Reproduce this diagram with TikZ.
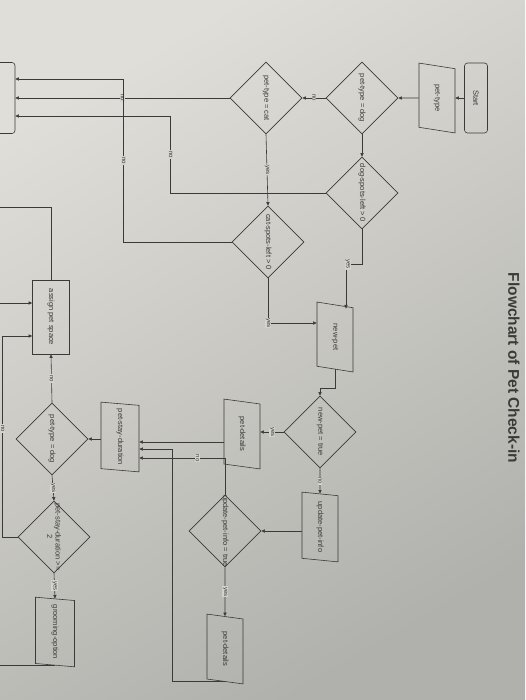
\documentclass[tikz,border=0pt]{standalone}
\usepackage{fontspec}
\setmainfont{Liberation Sans}
\usetikzlibrary{arrows.meta, positioning, shapes.geometric, calc}

\definecolor{ink}{RGB}{58,58,56}
\definecolor{paper}{RGB}{212,211,205}
\definecolor{papertop}{RGB}{224,222,216}
\definecolor{paperbot}{RGB}{176,177,172}

\begin{document}
\begin{tikzpicture}[
    x=1pt, y=-1pt, >={Triangle[length=3.6pt, width=3.2pt]},
    line width=0.6pt, color=ink,
    term/.style={draw, rounded corners=3pt, rotate=-90, inner sep=1pt,
                 font=\fontsize{7.5}{9}\selectfont},
    box/.style={draw, rotate=-90, minimum width=74, minimum height=37,
                inner sep=1pt, font=\fontsize{7.5}{9}\selectfont},
    io/.style={draw, trapezium, trapezium left angle=70,
               trapezium right angle=110, trapezium stretches=true,
               rotate=-90, minimum width=70, minimum height=36,
               inner sep=0.5pt, font=\fontsize{7.5}{9}\selectfont},
    dec/.style={draw, diamond, aspect=1, rotate=-90, minimum width=72,
                minimum height=72, inner sep=-3pt, align=center,
                font=\fontsize{7.5}{8.5}\selectfont},
    lbl/.style={fill=paper, inner sep=0.8pt, rotate=-90,
                font=\fontsize{6}{7}\selectfont}
  ]

  % page and photo background
  \useasboundingbox (0,0) rectangle (525,700);
  \clip (0,0) rectangle (525,700);
  \shade[top color=papertop, bottom color=paperbot, shading angle=30]
    (0,0) rectangle (525,700);

  % title
  \node[rotate=-90, font=\fontsize{15.5}{18}\selectfont\bfseries] (title)
    at (514,368) {Flowchart of Pet Check-in};

  % first column
  \node[term, minimum width=70, minimum height=23] (start) at (476,98) {Start};
  \node[io] (pettype) at (437,98) {pet-type};
  \node[dec] (dog) at (362,98) {pet-type = dog};
  \node[dec] (cat) at (266,98) {pet-type = cat};
  \node[term, minimum width=71, minimum height=40] (endbox) at (-5,98) {};

  % spots left
  \node[dec] (dogspots) at (362,193) {dog-spots-left > 0};
  \node[dec] (catspots) at (268,242) {cat-spots-left > 0};

  % new pet branch
  \node[io] (newpet) at (335,337) {new-pet};
  \node[dec] (newtrue) at (320,432) {new-pet = true};
  \node[io] (details1) at (242,434) {pet-details};
  \node[io] (updinfo) at (320,527) {update-pet-info};
  \node[dec] (updtrue) at (225,531) {update-pet-info = true};
  \node[io] (details2) at (225,649) {pet-details};

  % stay and grooming
  \node[io, minimum height=38] (stay) at (120,437) {pet-stay-duration};
  \node[dec] (dog2) at (52,439) {pet-type = dog};
  \node[box] (assign) at (51,317) {assign pet space};
  \node[dec] (stay2) at (54,537) {pet-stay-duration >=\\2};
  \node[io, minimum height=39] (groom) at (55,632) {grooming-option};

  % ends running off the page
  \coordinate (offa) at (-5,303);
  \coordinate (offb) at (-5,207);
  \coordinate (offc) at (-5,662);

  \draw[->] (start) -- (pettype);
  \draw[->] (pettype) -- (dog);
  \draw[->] (dog.south) -- node[lbl]{no} (cat.north);
  \draw[->] (cat.south) -- node[lbl]{no} (endbox.north);
  \draw[->] (dog.east) -- (dogspots.west);
  \draw[->] (cat.east) -- node[lbl]{yes} (catspots.west);
  \draw[->] (catspots.south) -- ++(-108,0)
    |- node[lbl, pos=0.25]{no} ([yshift=19pt]endbox.north);
  \draw[->] (dogspots.south) -- ++(-155,0)
    |- node[lbl, pos=0.25]{no} ([yshift=-18pt]endbox.north);
  \draw[->] (dogspots.east) -- ++(0,35)
    -| node[lbl, pos=0.45]{yes} ($(newpet.west)+(11,4)$);
  \draw[->] (catspots.east) |- node[lbl, pos=0.5]{yes}
    ([yshift=14pt]newpet.south);
  \draw[->] (newpet.east) -- ++(0,19) -| (newtrue.west);
  \draw[->] (newtrue.south) -- node[lbl]{yes} (newtrue.south -| details1.north);
  \draw[->] (newtrue.east) -- node[lbl]{no} (updinfo.west);
  \draw[->] (updinfo.south |- updtrue.north) -- (updtrue.north);
  \draw[->] (updtrue.east) -- node[lbl]{yes} (details2.west);
  \draw[->] (updtrue.west) |- node[lbl, pos=0.66]{no}
    ([yshift=-21pt]stay.north);
  \draw[->] ([yshift=-8pt]details1.south)
    -- ([yshift=-8pt]details1.south -| stay.north);
  \draw[->] (details2.east) -- ++(-53,0) |- ([yshift=-12pt]stay.north);
  \draw[->] (stay.south |- dog2.north) -- (dog2.north);
  \draw[->] (dog2.west) -- node[lbl]{no} (assign.east);
  \draw[->] (dog2.east) -- node[lbl]{yes} (stay2.west);
  \draw[->] (stay2.east) -- node[lbl]{yes} (groom.west);
  \draw[->] (stay2.south) -- ++(-15,0)
    |- node[lbl, pos=0.27]{no} ([yshift=-19pt]assign.south);
  \draw[->] (offa) -- (offa -| assign.south);
  \draw (assign.west) |- (offb);
  \draw (groom.east) -- (groom.east -| offc);
\end{tikzpicture}
\end{document}
